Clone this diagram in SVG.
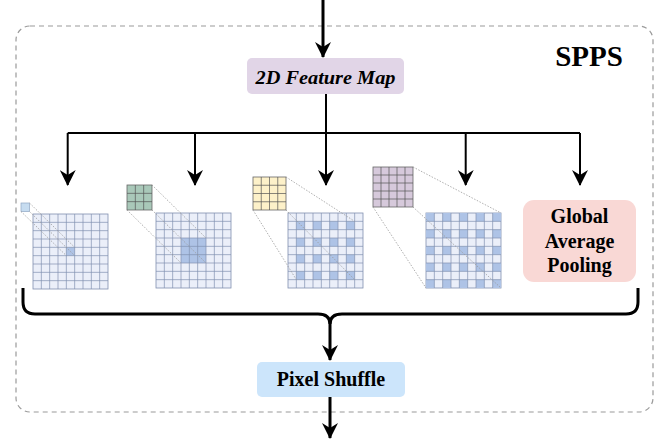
<svg xmlns="http://www.w3.org/2000/svg" xmlns:xlink="http://www.w3.org/1999/xlink" width="658" height="439" viewBox="0 0 658 439">
<style>
.conn{fill:none;stroke:#000;stroke-width:2}
.thick{stroke-width:3}
.lbl{font-family:"Liberation Serif","Times New Roman",serif;font-weight:bold;fill:#000;text-anchor:middle}
.gbg{fill:#ebeff9;stroke:#8190b0;stroke-width:0.8}
.gl{fill:none;stroke:#8190b0;stroke-width:0.7}
.hl{fill:#aec3e6}
.sl{fill:none;stroke:#555;stroke-width:0.7}
.dot{fill:none;stroke:#9a9a9a;stroke-width:0.8;stroke-dasharray:1.5 1.5}
</style>
<defs>
<marker id="ah" viewBox="0 0 16 16" markerWidth="16" markerHeight="16" refX="15" refY="8" orient="auto" markerUnits="userSpaceOnUse">
<path d="M0,0 L16,8 L0,16 L5,8 Z" fill="#000"/>
</marker>
<rect id="gridbg" x="0" y="0" width="75" height="75" class="gbg"/>
<path id="gridlines" class="gl" d="M8.33 0V75M16.67 0V75M25 0V75M33.33 0V75M41.67 0V75M50 0V75M58.33 0V75M66.67 0V75M0 8.33H75M0 16.67H75M0 25H75M0 33.33H75M0 41.67H75M0 50H75M0 58.33H75M0 66.67H75"/>
</defs>

<rect x="16" y="26" width="637" height="386" rx="14" fill="none" stroke="#9a9a9a" stroke-width="1.2" stroke-dasharray="5 4"/>
<text class="lbl" x="589" y="66" font-size="29">SPPS</text>

<g id="connectors">
<path class="conn thick" d="M323,0 V57" marker-end="url(#ah)"/>
<path class="conn" d="M326,94 V133 M67.7,133 H580"/>
<path class="conn" d="M67.7,133 V185" marker-end="url(#ah)"/>
<path class="conn" d="M195,133 V185" marker-end="url(#ah)"/>
<path class="conn" d="M326,133 V185" marker-end="url(#ah)"/>
<path class="conn" d="M465.7,133 V185" marker-end="url(#ah)"/>
<path class="conn" d="M580,133 V185" marker-end="url(#ah)"/>
<path class="conn thick" d="M23,288 V302 Q23,314 35,314 H318 Q330,314 330,324 M638,288 V302 Q638,314 626,314 H342 Q330,314 330,324"/>
<path class="conn thick" d="M330,322 V360" marker-end="url(#ah)"/>
<path class="conn thick" d="M330,397 V438" marker-end="url(#ah)"/>
</g>

<g id="feature-map">
<rect x="247" y="58" width="157" height="36" rx="5" fill="#e1d5e7"/>
<text class="lbl" x="325.5" y="83.5" font-size="19" font-style="italic" textLength="140" lengthAdjust="spacingAndGlyphs">2D Feature Map</text>
</g>

<g id="branch1">
<use xlink:href="#gridbg" x="33" y="214"/>
<rect class="hl" x="66.33" y="247.33" width="8.33" height="8.33"/>
<use xlink:href="#gridlines" x="33" y="214"/>
<rect x="21" y="203" width="8.5" height="8.5" fill="#c6dcf0" stroke="#8fa6c4" stroke-width="0.7"/>
<path class="dot" d="M29.5,203 L74.67,247.33 M21,211.5 L66.33,255.67 M29.5,211.5 L74.67,255.67"/>
</g>

<g id="branch2">
<use xlink:href="#gridbg" x="156" y="213"/>
<rect class="hl" x="181" y="238" width="25" height="25"/>
<use xlink:href="#gridlines" x="156" y="213"/>
<rect x="127" y="185" width="25" height="25" fill="#a9c8b9" stroke="#666" stroke-width="0.8"/>
<path class="sl" d="M135.33,185V210M143.67,185V210M127,193.33H152M127,201.67H152"/>
<path class="dot" d="M152,185 L206,238 M127,210 L181,263 M152,210 L206,263"/>
</g>

<g id="branch3">
<use xlink:href="#gridbg" x="288" y="213"/>
<g class="hl">
<rect x="296.33" y="221.33" width="8.33" height="8.33"/><rect x="313" y="221.33" width="8.33" height="8.33"/><rect x="329.67" y="221.33" width="8.33" height="8.33"/><rect x="346.33" y="221.33" width="8.33" height="8.33"/>
<rect x="296.33" y="238" width="8.33" height="8.33"/><rect x="313" y="238" width="8.33" height="8.33"/><rect x="329.67" y="238" width="8.33" height="8.33"/><rect x="346.33" y="238" width="8.33" height="8.33"/>
<rect x="296.33" y="254.67" width="8.33" height="8.33"/><rect x="313" y="254.67" width="8.33" height="8.33"/><rect x="329.67" y="254.67" width="8.33" height="8.33"/><rect x="346.33" y="254.67" width="8.33" height="8.33"/>
<rect x="296.33" y="271.33" width="8.33" height="8.33"/><rect x="313" y="271.33" width="8.33" height="8.33"/><rect x="329.67" y="271.33" width="8.33" height="8.33"/><rect x="346.33" y="271.33" width="8.33" height="8.33"/>
</g>
<use xlink:href="#gridlines" x="288" y="213"/>
<rect x="253" y="177" width="33" height="33" fill="#fdf1c9" stroke="#666" stroke-width="0.8"/>
<path class="sl" d="M261.25,177V210M269.5,177V210M277.75,177V210M253,185.25H286M253,193.5H286M253,201.75H286"/>
<path class="dot" d="M286,177 L354.67,221.33 M253,210 L296.33,279.67 M286,210 L354.67,279.67"/>
</g>

<g id="branch4">
<use xlink:href="#gridbg" x="426" y="213"/>
<g class="hl">
<rect x="426" y="213" width="8.33" height="8.33"/><rect x="442.67" y="213" width="8.33" height="8.33"/><rect x="459.33" y="213" width="8.33" height="8.33"/><rect x="476" y="213" width="8.33" height="8.33"/><rect x="492.67" y="213" width="8.33" height="8.33"/>
<rect x="426" y="229.67" width="8.33" height="8.33"/><rect x="442.67" y="229.67" width="8.33" height="8.33"/><rect x="459.33" y="229.67" width="8.33" height="8.33"/><rect x="476" y="229.67" width="8.33" height="8.33"/><rect x="492.67" y="229.67" width="8.33" height="8.33"/>
<rect x="426" y="246.33" width="8.33" height="8.33"/><rect x="442.67" y="246.33" width="8.33" height="8.33"/><rect x="459.33" y="246.33" width="8.33" height="8.33"/><rect x="476" y="246.33" width="8.33" height="8.33"/><rect x="492.67" y="246.33" width="8.33" height="8.33"/>
<rect x="426" y="263" width="8.33" height="8.33"/><rect x="442.67" y="263" width="8.33" height="8.33"/><rect x="459.33" y="263" width="8.33" height="8.33"/><rect x="476" y="263" width="8.33" height="8.33"/><rect x="492.67" y="263" width="8.33" height="8.33"/>
<rect x="426" y="279.67" width="8.33" height="8.33"/><rect x="442.67" y="279.67" width="8.33" height="8.33"/><rect x="459.33" y="279.67" width="8.33" height="8.33"/><rect x="476" y="279.67" width="8.33" height="8.33"/><rect x="492.67" y="279.67" width="8.33" height="8.33"/>
</g>
<use xlink:href="#gridlines" x="426" y="213"/>
<rect x="373" y="167" width="40" height="40" fill="#d6c9db" stroke="#666" stroke-width="0.8"/>
<path class="sl" d="M381,167V207M389,167V207M397,167V207M405,167V207M373,175H413M373,183H413M373,191H413M373,199H413"/>
<path class="dot" d="M413,167 L501,213 M373,207 L426,288 M413,207 L501,288"/>
</g>

<g id="global-pooling">
<rect x="523" y="200" width="113" height="82" rx="11" fill="#f9d8d5"/>
<text class="lbl" x="579.5" y="223" font-size="20">Global</text>
<text class="lbl" x="579.5" y="247.5" font-size="20">Average</text>
<text class="lbl" x="579.5" y="272" font-size="20">Pooling</text>
</g>

<g id="pixel-shuffle">
<rect x="257" y="362" width="148" height="35" rx="5" fill="#cce5fb"/>
<text class="lbl" x="331" y="385.5" font-size="20">Pixel Shuffle</text>
</g>
</svg>
